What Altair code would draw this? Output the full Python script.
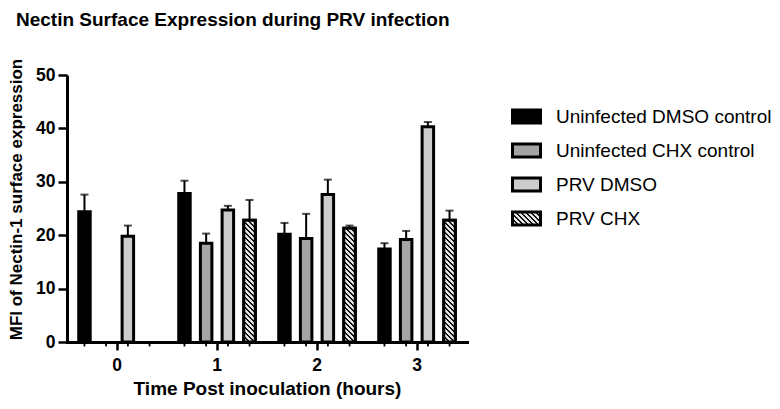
import altair as alt
import pandas as pd

# ---------------- data ----------------
groups = ["0", "1", "2", "3"]
series = ["Uninfected DMSO control", "Uninfected CHX control", "PRV DMSO", "PRV CHX"]

dmso_ctrl = [24.4, 27.8, 20.2, 17.4]
dmso_ctrl_err = [27.6, 30.2, 22.3, 18.5]
chx_ctrl = [None, 18.5, 19.4, 19.2]
chx_ctrl_err = [None, 20.3, 24.0, 20.8]
prv_dmso = [19.8, 24.7, 27.6, 40.3]
prv_dmso_err = [21.8, 25.5, 30.4, 41.2]
prv_chx = [None, 22.8, 21.3, 22.8]
prv_chx_err = [None, 26.6, 21.8, 24.6]

y_ticks = [0, 10, 20, 30, 40, 50]
colors = ["#000000", "#a5a5a5", "#cccccc"]

# ---------------- layout constants ----------------
W, H = 400, 267
Y_MAX = 50
BW = 11.5  # bar band width in px
FONT = "Liberation Sans"

rows = []
for s, vals, errs in zip(series,
                         [dmso_ctrl, chx_ctrl, prv_dmso, prv_chx],
                         [dmso_ctrl_err, chx_ctrl_err, prv_dmso_err, prv_chx_err]):
    for g, v, e in zip(groups, vals, errs):
        if v is not None:
            rows.append({"group": g, "series": s, "value": v, "err": e})
df = pd.DataFrame(rows)
slots = pd.DataFrame([{"group": g, "series": s} for g in groups for s in series])


def hatch_stops(w, h, period=5.0, dark=2.2, c1="#111111", c2="#e4e4e4"):
    L = w + h
    k = L / (w * w + h * h)
    stops = []
    s = 0.0
    while s < L - 1e-9:
        a = s / L
        b = min((s + dark) / L, 1.0)
        c = min((s + period) / L, 1.0)
        stops += [(a, c1), (b, c1), (b, c2), (c, c2)]
        s += period
    return dict(x1=0, y1=1, x2=k * w, y2=1 - k * h, stops=stops)


def hatch_gradient(w, h):
    d = hatch_stops(w, h)
    return alt.LinearGradient(
        gradient="linear", x1=d["x1"], y1=d["y1"], x2=d["x2"], y2=d["y2"],
        stops=[alt.GradientStop(offset=o, color=c) for o, c in d["stops"]])


def hatch_expr(w, h):
    d = hatch_stops(w, h)
    st = ",".join("{offset:%.4f,color:'%s'}" % (o, c) for o, c in d["stops"])
    return "{gradient:'linear',x1:%.4f,y1:%.4f,x2:%.4f,y2:%.4f,stops:[%s]}" % (
        d["x1"], d["y1"], d["x2"], d["y2"], st)


x_enc = alt.X("group:N", sort=groups,
              scale=alt.Scale(domain=groups, paddingInner=0, paddingOuter=0),
              axis=alt.Axis(title="Time Post inoculation (hours)", labelAngle=0))
xo_enc = alt.XOffset("series:N", sort=series,
                     scale=alt.Scale(domain=series, paddingInner=0.47, paddingOuter=0.54))
y_scale = alt.Scale(domain=[0, Y_MAX], nice=False, zero=True)
y_enc = alt.Y("value:Q", scale=y_scale,
              axis=alt.Axis(title="MFI of Nectin-1 surface expression", values=y_ticks,
                            grid=False, titleX=-46, titleY=124, titleAngle=270,
                            titleAlign="center", titleBaseline="alphabetic",
                            titleFontSize=17))

fill_range = colors + [alt.ExprRef(expr=hatch_expr(28, 13))]

bars = alt.Chart(df).mark_bar(stroke="black", strokeWidth=3).encode(
    x=x_enc, xOffset=xo_enc, y=y_enc,
    fill=alt.Fill("series:N", sort=series,
                  scale=alt.Scale(domain=series, range=fill_range),
                  legend=alt.Legend(title=None, orient="none", legendX=444, legendY=26,
                                    symbolType="M-1,-0.464H1V0.464H-1Z", symbolSize=784,
                                    symbolStrokeColor="black", symbolStrokeWidth=3,
                                    labelFont=FONT, labelFontSize=19, labelColor="black",
                                    labelOffset=14, rowPadding=6, labelLimit=400)),
)

layers = [bars]
for g, v in zip(groups, prv_chx):
    if v is None:
        continue
    one = df[(df.series == "PRV CHX") & (df.group == g)]
    h = v * H / Y_MAX
    layers.append(
        alt.Chart(one).mark_bar(fill=hatch_gradient(BW, h), stroke="black", strokeWidth=3)
        .encode(x=x_enc, xOffset=xo_enc, y=alt.Y("value:Q", scale=y_scale))
    )

whisk = alt.Chart(df).mark_rule(color="black", strokeWidth=2).encode(
    x=x_enc, xOffset=xo_enc, y=alt.Y("value:Q", scale=y_scale), y2="err:Q")
caps = alt.Chart(df).mark_tick(color="black", thickness=2, size=8).encode(
    x=x_enc, xOffset=xo_enc, y=alt.Y("err:Q", scale=y_scale))
layers += [whisk, caps]

for off in (-BW / 2, BW / 2):
    layers.append(
        alt.Chart(slots).mark_rule(color="black", strokeWidth=1.5, xOffset=off).encode(
            x=x_enc, xOffset=xo_enc, y=alt.datum(0, scale=y_scale), y2=alt.datum(-0.8))
    )

chart = alt.layer(*layers).properties(
    width=W, height=H,
    title=alt.TitleParams("Nectin Surface Expression during PRV infection",
                          anchor="start", frame="group", dx=-51, offset=13,
                          baseline="alphabetic", font=FONT, fontSize=19,
                          fontWeight="bold", color="black"),
    autosize=alt.AutoSizeParams(type="none"),
    padding={"left": 59, "top": 67, "right": 305, "bottom": 59},
).configure_view(stroke=None).configure_axis(
    labelFont=FONT, labelFontSize=17.5, labelFontWeight="bold", labelColor="black",
    titleFont=FONT, titleFontSize=19, titleFontWeight="bold", titleColor="black",
    domainColor="black", domainWidth=3, tickColor="black", tickWidth=2.5,
    tickSize=9, labelPadding=3,
).configure_axisX(tickSize=8, labelPadding=6, titlePadding=6, domainCap="square")

chart.save("out.html", embed_options={"renderer": "svg", "actions": False})
